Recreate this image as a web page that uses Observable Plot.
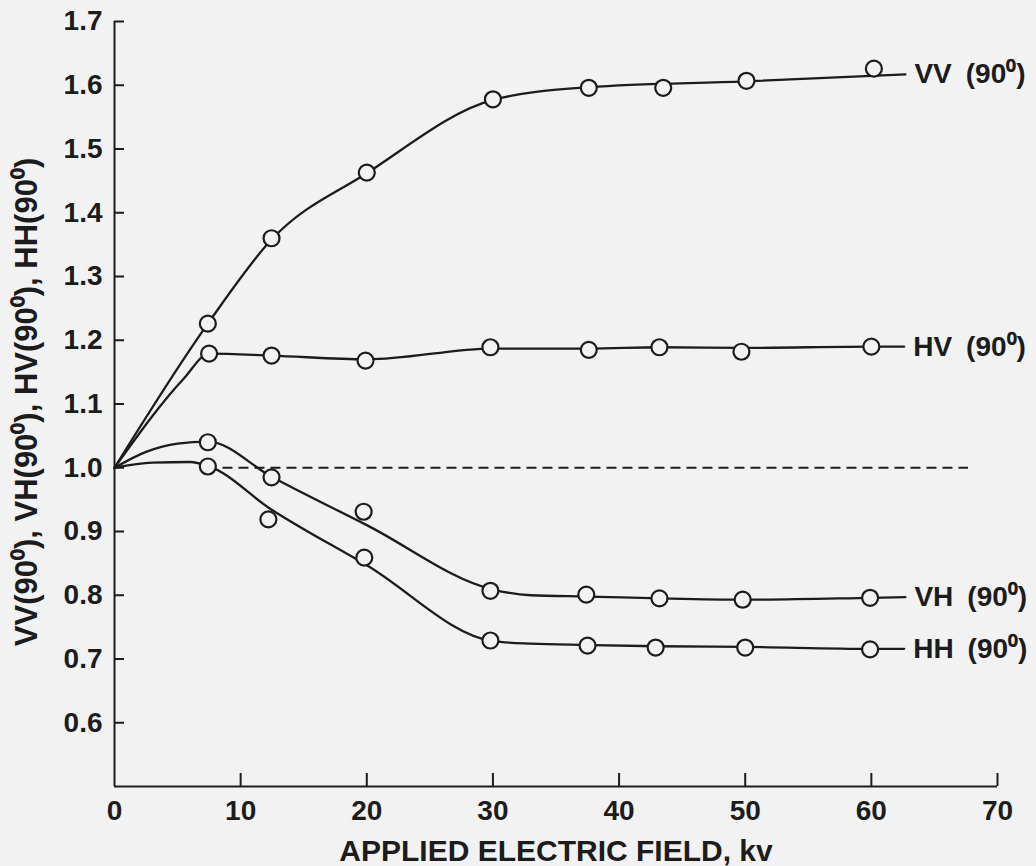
<!DOCTYPE html>
<html><head><meta charset="utf-8">
<script src="https://cdn.jsdelivr.net/npm/d3@7"></script>
<script src="https://cdn.jsdelivr.net/npm/@observablehq/plot@0.6"></script>
<style>
html,body{margin:0;padding:0;background:#f2f2f2;}
#chart svg{display:block;}
</style></head><body><div id="chart"></div>
<script>
// ---- axis ticks & titles ----
const xTickLabels = [0, 10, 20, 30, 40, 50, 60, 70];
const xTickMarks = [10, 20, 30, 40, 50, 60, 70];
const yTicks = [0.6, 0.7, 0.8, 0.9, 1.0, 1.1, 1.2, 1.3, 1.4, 1.5, 1.6, 1.7];
const xTitle = "APPLIED ELECTRIC FIELD, kv";
const yTitle = "VV(90\u2070), VH(90\u2070), HV(90\u2070), HH(90\u2070)";

// ---- measured points (open circles) ----
const ptX_VV = [7.4, 12.45, 20.0, 30.0, 37.6, 43.5, 50.1, 60.2];
const ptY_VV = [1.226, 1.360, 1.463, 1.578, 1.596, 1.596, 1.607, 1.626];
const ptX_HV = [7.5, 12.45, 19.9, 29.8, 37.6, 43.2, 49.7, 60.0];
const ptY_HV = [1.179, 1.176, 1.168, 1.189, 1.185, 1.189, 1.182, 1.190];
const ptX_VH = [7.4, 12.45, 19.75, 29.8, 37.4, 43.2, 49.8, 59.9];
const ptY_VH = [1.040, 0.985, 0.931, 0.807, 0.801, 0.795, 0.793, 0.796];
const ptX_HH = [7.4, 12.2, 19.8, 29.8, 37.5, 42.9, 50.0, 59.9];
const ptY_HH = [1.002, 0.919, 0.859, 0.729, 0.721, 0.718, 0.718, 0.715];

// ---- smoothed curves drawn through the data ----
const cvX_VV = [0, 7.4, 12.45, 20, 30, 37.6, 50, 62.7];
const cvY_VV = [1.0, 1.226, 1.358, 1.462, 1.577, 1.597, 1.606, 1.617];
const cvX_HV = [0, 5.5, 7.5, 12.45, 20, 30, 37.6, 43.3, 50, 60, 62.6];
const cvY_HV = [1.0, 1.14, 1.179, 1.176, 1.17, 1.187, 1.187, 1.189, 1.188, 1.19, 1.19];
const cvX_VH = [0, 2.5, 5, 7.4, 12.45, 20, 30, 33, 37.5, 43.3, 50, 60, 62.7];
const cvY_VH = [1.0, 1.025, 1.038, 1.041, 0.986, 0.91, 0.809, 0.8, 0.798, 0.795, 0.793, 0.796, 0.797];
const cvX_HH = [0, 3, 6, 7.4, 12.4, 20, 30, 33, 37.5, 43, 50, 60, 62.6];
const cvY_HH = [1.0, 1.008, 1.009, 1.003, 0.935, 0.847, 0.728, 0.724, 0.722, 0.72, 0.719, 0.716, 0.716];

// ---- reference (dashed) line at 1.0 ----
const refY = 1.0;
const refFrom = 8.6;
const refTo = 67.7;

// ---- series labels ----
const seriesNames = ["VV", "HV", "VH", "HH"];
const seriesLabels = ["VV\u2002(90\u2070)", "HV\u2002(90\u2070)", "VH\u2002(90\u2070)", "HH\u2002(90\u2070)"];

// build tables
const ptSets = {VV: [ptX_VV, ptY_VV], HV: [ptX_HV, ptY_HV], VH: [ptX_VH, ptY_VH], HH: [ptX_HH, ptY_HH]};
const cvSets = {VV: [cvX_VV, cvY_VV], HV: [cvX_HV, cvY_HV], VH: [cvX_VH, cvY_VH], HH: [cvX_HH, cvY_HH]};
const points = seriesNames.flatMap(s => ptSets[s][0].map((x, i) => ({s, x, y: ptSets[s][1][i]})));
const curves = seriesNames.flatMap(s => cvSets[s][0].map((x, i) => ({s, x, y: cvSets[s][1][i]})));
const labels = seriesNames.map((s, i) => {
  const [xs, ys] = cvSets[s];
  return {s, x: xs[xs.length - 1], y: ys[ys.length - 1], text: seriesLabels[i]};
});

const ink = "#1c1c1c";
const bg = "#f2f2f2";
const font = "'Liberation Sans', Arial, Helvetica, sans-serif";

const chart = Plot.plot({
  width: 1036,
  height: 866,
  marginLeft: 114,
  marginRight: 39,
  marginTop: 21,
  marginBottom: 80,
  style: {background: bg, color: ink, fontFamily: font},
  x: {domain: [0, 70]},
  y: {domain: [0.5, 1.7]},
  marks: [
    // axis lines
    Plot.ruleX([0], {y1: 0.5, y2: 1.7, stroke: ink, strokeWidth: 2}),
    Plot.ruleY([0.5], {x1: 0, x2: 70, stroke: ink, strokeWidth: 2}),
    // inward ticks
    Plot.axisY({ticks: yTicks, tickSize: -10, tickFormat: () => "", strokeWidth: 2, label: null}),
    Plot.axisX({ticks: xTickMarks, tickSize: -13, tickFormat: () => "", strokeWidth: 2, label: null}),
    // tick labels
    Plot.axisY({ticks: yTicks, tickSize: 0, tickPadding: 12, tickFormat: d3.format(".1f"),
      fontSize: 28, fontWeight: "bold", label: null, fill: ink}),
    Plot.axisX({ticks: xTickLabels, tickSize: 0, tickPadding: 14, tickFormat: d3.format("d"),
      fontSize: 28, fontWeight: "bold", label: null, fill: ink}),
    // titles
    Plot.text([xTitle], {frameAnchor: "bottom", dy: 65, lineAnchor: "middle",
      fontSize: 30, fontWeight: "bold", fill: ink}),
    Plot.text([yTitle], {frameAnchor: "left", rotate: -90, textAnchor: "middle", dx: -87, dy: -2,
      lineAnchor: "middle", fontSize: 31, fontWeight: "bold", fill: ink}),
    // dashed reference
    Plot.ruleY([refY], {x1: refFrom, x2: refTo, stroke: ink, strokeWidth: 1.8, strokeDasharray: "10,6"}),
    // curves
    Plot.line(curves, {x: "x", y: "y", z: "s", curve: "monotone-x", stroke: ink, strokeWidth: 2.3}),
    // points
    Plot.dot(points, {x: "x", y: "y", r: 8, stroke: ink, strokeWidth: 2.2, fill: bg}),
    // series labels
    Plot.text(labels, {x: "x", y: "y", text: "text", textAnchor: "start", dx: 9, lineAnchor: "middle",
      fontSize: 28, fontWeight: "bold", fill: ink})
  ]
});
document.getElementById("chart").appendChild(chart);
</script>
</body></html>
